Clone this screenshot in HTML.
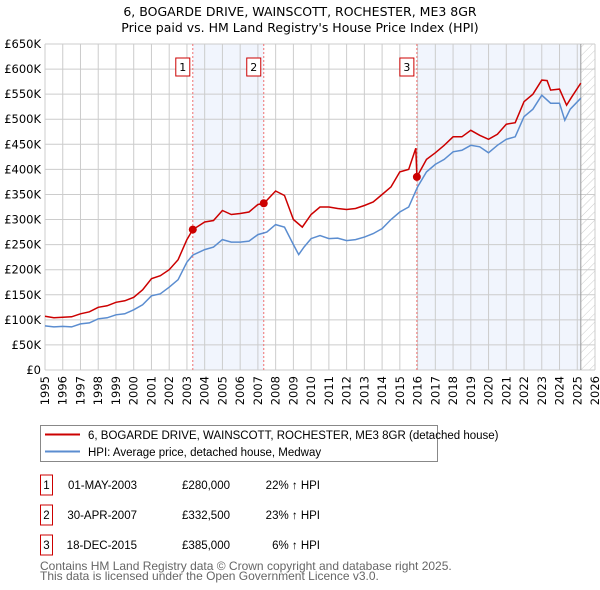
<!DOCTYPE html>
<html><head><meta charset="utf-8"><style>
body{margin:0;background:#fff;font-family:"Liberation Sans","DejaVu Sans",sans-serif;}
#wrap{position:relative;width:600px;height:590px;overflow:hidden;}
text{font-family:"DejaVu Sans","Liberation Sans",sans-serif;}
text.lib{font-family:"Liberation Sans",sans-serif;}
</style></head><body>
<div id="wrap">
<svg id="svg" width="600" height="590" xmlns="http://www.w3.org/2000/svg">
<defs><pattern id="hatch" width="6" height="6" patternUnits="userSpaceOnUse" patternTransform="rotate(45)"><line x1="0" y1="0" x2="0" y2="6" stroke="#ccc" stroke-width="1"/></pattern></defs>
<text x="300" y="16" text-anchor="middle" font-size="12.5" fill="#000">6, BOGARDE DRIVE, WAINSCOTT, ROCHESTER, ME3 8GR</text>
<text x="300" y="32" text-anchor="middle" font-size="12.5" fill="#000">Price paid vs. HM Land Registry's House Price Index (HPI)</text>
<g id="plot"></g>
<g>
<rect x="40.5" y="425.5" width="397" height="36" fill="#fff" stroke="#888"/>
<line x1="45" y1="434.5" x2="80" y2="434.5" stroke="#cc0000" stroke-width="2"/>
<text class="lib" x="88" y="439" font-size="11.5">6, BOGARDE DRIVE, WAINSCOTT, ROCHESTER, ME3 8GR (detached house)</text>
<line x1="45" y1="451.5" x2="80" y2="451.5" stroke="#5b8dd0" stroke-width="2"/>
<text class="lib" x="88" y="456" font-size="11.5">HPI: Average price, detached house, Medway</text>
</g>
<g id="table" font-size="11.5"></g>
<text class="lib" x="40" y="570" font-size="12" fill="#666">Contains HM Land Registry data © Crown copyright and database right 2025.</text>
<text class="lib" x="40" y="580" font-size="12" fill="#666">This data is licensed under the Open Government Licence v3.0.</text>
</svg>
</div>
<script>
const hpiYears=[1995,1995.5,1996,1996.5,1997,1997.5,1998,1998.5,1999,1999.5,2000,2000.5,2001,2001.5,2002,2002.5,2003,2003.33,2004,2004.5,2005,2005.5,2006,2006.5,2007,2007.5,2008,2008.5,2009,2009.3,2009.6,2010,2010.5,2011,2011.5,2012,2012.5,2013,2013.5,2014,2014.5,2015,2015.5,2016,2016.5,2017,2017.5,2018,2018.5,2019,2019.5,2020,2020.5,2021,2021.5,2022,2022.5,2023,2023.5,2024,2024.3,2024.6,2025.2];
const hpiValues=[88,86,87,86,92,94,102,104,110,112,120,130,148,152,165,180,215,229,240,245,260,255,255,257,270,275,290,285,250,230,245,262,268,262,263,258,260,265,272,282,300,315,325,365,395,410,420,435,438,448,445,433,448,460,465,505,520,548,532,532,498,520,542];
const priceYears=[1995,1995.5,1996,1996.5,1997,1997.5,1998,1998.5,1999,1999.5,2000,2000.5,2001,2001.5,2002,2002.5,2003,2003.33,2004,2004.5,2005,2005.5,2006,2006.5,2007,2007.33,2008,2008.5,2009,2009.5,2010,2010.5,2011,2011.5,2012,2012.5,2013,2013.5,2014,2014.5,2015,2015.5,2015.9,2015.96,2016.5,2017,2017.5,2018,2018.5,2019,2019.5,2020,2020.5,2021,2021.5,2022,2022.5,2023,2023.3,2023.5,2024,2024.4,2024.7,2025.2];
const priceValues=[107,104,105,106,112,116,125,128,135,138,145,160,182,188,200,220,260,280,295,298,318,310,312,315,330,332,357,348,300,285,310,325,325,322,320,322,328,335,350,365,395,400,442,385,420,433,448,465,465,478,468,460,470,490,493,535,550,578,577,558,560,528,545,572];
const saleYears=[2003.33,2007.33,2015.96];
const saleValues=[280,332.5,385];
const saleLabels=["1","2","3"];
const saleDates=["01-MAY-2003","30-APR-2007","18-DEC-2015"];
const salePrices=["£280,000","£332,500","£385,000"];
const saleHpi=["22% ↑ HPI","23% ↑ HPI","6% ↑ HPI"];
const yTicks=[0,50,100,150,200,250,300,350,400,450,500,550,600,650];
const yTickLabels=["£0","£50K","£100K","£150K","£200K","£250K","£300K","£350K","£400K","£450K","£500K","£550K","£600K","£650K"];
const xTicks=[1995,1996,1997,1998,1999,2000,2001,2002,2003,2004,2005,2006,2007,2008,2009,2010,2011,2012,2013,2014,2015,2016,2017,2018,2019,2020,2021,2022,2023,2024,2025,2026];
const dataEnd=2025.2;

const NS="http://www.w3.org/2000/svg";
const L=45,R=595,T=44,B=370;
const X=y=>L+(y-1995)/(2026-1995)*(R-L);
const Y=v=>B-v/650*(B-T);
const plot=document.getElementById('plot');
function mk(tag,attrs,parent){const e=document.createElementNS(NS,tag);for(const k in attrs)e.setAttribute(k,attrs[k]);(parent||plot).appendChild(e);return e;}

for(let i=0;i<saleYears.length;i+=2){
  const x1=X(saleYears[i]);const x2=i+1<saleYears.length?X(saleYears[i+1]):X(dataEnd);
  const r=mk('rect',{x:x1,y:T,width:x2-x1,height:B-T,fill:'#eef3fc',opacity:0.8});
  
  
}
const hr=mk('rect',{x:X(dataEnd),y:T,width:R-X(dataEnd),height:B-T,fill:'url(#hatch)'});


xTicks.forEach(t=>{
  const l=mk('line',{x1:X(t),y1:T,x2:X(t),y2:B,stroke:'#ccc','stroke-width':1});
  
  
  const tx=mk('text',{x:0,y:0,'font-size':11.5,'text-anchor':'end',transform:`translate(${X(t)+4},${B+6}) rotate(-90)`});
  tx.textContent=t;
  
  
});
yTicks.forEach((t,i)=>{
  const l=mk('line',{x1:L,y1:Y(t),x2:R,y2:Y(t),stroke:'#ccc','stroke-width':1});
  
  
  const tx=mk('text',{x:L-4,y:Y(t)+4,'font-size':11.5,'text-anchor':'end'});
  tx.textContent=yTickLabels[i];
  
  
});
const de=mk('line',{x1:X(dataEnd),y1:T,x2:X(dataEnd),y2:B,stroke:'#999','stroke-width':1});


saleYears.forEach((s,i)=>{
  const l=mk('line',{x1:X(s),y1:T,x2:X(s),y2:B,stroke:'#f07070','stroke-width':1,'stroke-dasharray':'2,2'});
  
  
  const bx=mk('rect',{x:X(s)-17,y:58,width:14,height:18,fill:'#fff',stroke:'#cc0000'});
  
  
  const tx=mk('text',{x:X(s)-10,y:71,'font-size':11,'text-anchor':'middle'});
  tx.textContent=saleLabels[i];
  
  
});
const hp=mk('path',{d:hpiYears.map((y,i)=>(i?'L':'M')+X(y).toFixed(1)+','+Y(hpiValues[i]).toFixed(1)).join(''),fill:'none',stroke:'#5b8dd0','stroke-width':1.5});


const pp=mk('path',{d:priceYears.map((y,i)=>(i?'L':'M')+X(y).toFixed(1)+','+Y(priceValues[i]).toFixed(1)).join(''),fill:'none',stroke:'#cc0000','stroke-width':1.5});


saleYears.forEach((s,i)=>{
  const c=mk('circle',{cx:X(s),cy:Y(saleValues[i]),r:4,fill:'#cc0000'});
  
  
});
const tb=document.getElementById('table');
saleLabels.forEach((lab,i)=>{
  const y=485+i*30;
  const bx=mk('rect',{x:40.5,y:y-10,width:12,height:20,fill:'#fff',stroke:'#cc0000'},tb);
  
  
  const cells=[[46.5,lab,'middle'],[137,saleDates[i],'end'],[230,salePrices[i],'end'],[320,saleHpi[i],'end']];
  cells.forEach(c=>{
    const t=mk('text',{x:c[0],y:y+4,'text-anchor':c[2],'class':'lib'},tb);
    t.textContent=c[1];
    
    
  });
});
</script>
</body></html>
